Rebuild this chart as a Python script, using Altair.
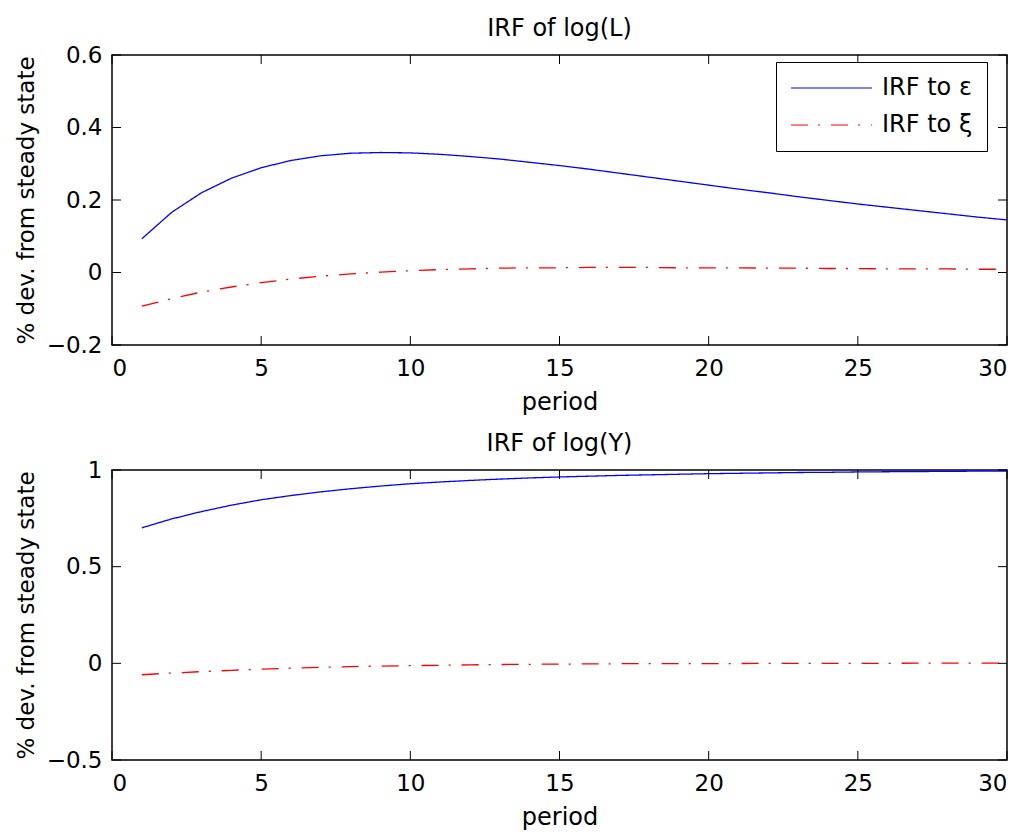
import altair as alt
import pandas as pd

periods = list(range(1, 31))
L_eps = [0.093, 0.166, 0.220, 0.260, 0.289, 0.309, 0.322, 0.329, 0.331, 0.330,
         0.326, 0.320, 0.313, 0.304, 0.295, 0.285, 0.274, 0.263, 0.252, 0.241,
         0.230, 0.220, 0.209, 0.199, 0.189, 0.180, 0.171, 0.162, 0.153, 0.145]
L_xi = [-0.093, -0.072, -0.054, -0.040, -0.028, -0.018, -0.010, -0.004, 0.001, 0.005,
        0.008, 0.010, 0.012, 0.013, 0.013, 0.014, 0.014, 0.014, 0.013, 0.013,
        0.013, 0.012, 0.012, 0.011, 0.011, 0.010, 0.010, 0.010, 0.009, 0.009]
Y_eps = [0.701, 0.747, 0.785, 0.818, 0.846, 0.868, 0.887, 0.903, 0.917, 0.929,
         0.938, 0.946, 0.953, 0.959, 0.964, 0.968, 0.972, 0.975, 0.978, 0.981,
         0.983, 0.985, 0.987, 0.988, 0.990, 0.991, 0.992, 0.993, 0.994, 0.995]
Y_xi = [-0.059, -0.050, -0.043, -0.036, -0.030, -0.025, -0.021, -0.017, -0.014, -0.012,
        -0.010, -0.008, -0.006, -0.005, -0.004, -0.003, -0.002, -0.002, -0.001, -0.001,
        -0.001, 0.000, 0.000, 0.000, 0.000, 0.000, 0.001, 0.001, 0.001, 0.001]
series_labels = ["IRF to ε", "IRF to ξ"]
x_ticks = [0, 5, 10, 15, 20, 25, 30]
L_yticks = [-0.2, 0, 0.2, 0.4, 0.6]
Y_yticks = [-0.5, 0, 0.5, 1]
titles = ["IRF of log(L)", "IRF of log(Y)"]

W, H = 895, 290
TICK = 9
FONT = "DejaVu Sans"


def panel(eps, xi, yticks, title, show_legend):
    df = pd.DataFrame({
        "period": periods * 2,
        "value": eps + xi,
        "series": [series_labels[0]] * len(eps) + [series_labels[1]] * len(xi),
    })
    xs = alt.Scale(domain=[x_ticks[0], x_ticks[-1]], nice=False, zero=False)
    ys = alt.Scale(domain=[yticks[0], yticks[-1]], nice=False, zero=False)
    xax = alt.Axis(values=x_ticks, title="period", format="d")
    yax = alt.Axis(values=yticks, format="~g", title="% dev. from steady state")
    if show_legend:
        leg = alt.Legend(title=None, orient="none", legendX=664, legendY=7,
                         strokeColor="black", fillColor="white", padding=14,
                         labelFontSize=24, labelFont=FONT, labelColor="black",
                         symbolType="stroke", symbolSize=6561, symbolStrokeWidth=1.2,
                         labelOffset=9, rowPadding=13, clipHeight=24)
    else:
        leg = None
    lines = alt.Chart(df).mark_line(strokeWidth=1.3, clip=True).encode(
        x=alt.X("period:Q", scale=xs, axis=xax),
        y=alt.Y("value:Q", scale=ys, axis=yax),
        color=alt.Color("series:N", scale=alt.Scale(domain=series_labels, range=["#0000ff", "#ff0000"]),
                        legend=leg),
        strokeDash=alt.StrokeDash("series:N",
                                  scale=alt.Scale(domain=series_labels, range=[[1, 0], [17, 10, 2, 11]]),
                                  legend=leg),
    )
    xt = pd.DataFrame({"period": x_ticks})
    yt = pd.DataFrame({"value": yticks})
    bx = alt.Chart(xt).mark_rule(color="black", strokeWidth=1).encode(
        x=alt.X("period:Q", scale=xs, axis=xax), y=alt.value(H), y2=alt.value(H - TICK))
    tx = alt.Chart(xt).mark_rule(color="black", strokeWidth=1).encode(
        x=alt.X("period:Q", scale=xs, axis=xax), y=alt.value(0), y2=alt.value(TICK))
    ly = alt.Chart(yt).mark_rule(color="black", strokeWidth=1).encode(
        y=alt.Y("value:Q", scale=ys, axis=yax), x=alt.value(0), x2=alt.value(TICK))
    ry = alt.Chart(yt).mark_rule(color="black", strokeWidth=1).encode(
        y=alt.Y("value:Q", scale=ys, axis=yax), x=alt.value(W), x2=alt.value(W - TICK))
    return alt.layer(lines, bx, tx, ly, ry).properties(
        width=W, height=H,
        title=alt.TitleParams(title, fontSize=24, fontWeight="normal", font=FONT,
                              color="black", offset=3, anchor="middle"),
    )


top = panel(L_eps, L_xi, L_yticks, titles[0], True)
bottom = panel(Y_eps, Y_xi, Y_yticks, titles[1], False)

chart = alt.vconcat(top, bottom, spacing=16).resolve_scale(
    color="independent", strokeDash="independent", x="independent", y="independent"
).resolve_legend(color="independent", strokeDash="independent").properties(
    padding={"left": 6, "top": 8, "right": 5, "bottom": 0},
    background="white",
).configure_view(
    stroke="black", strokeWidth=1.5
).configure_axis(
    grid=False, ticks=False, domain=False,
    labelFont=FONT, titleFont=FONT, labelFontSize=23, titleFontSize=23,
    titleFontWeight="normal", labelColor="black", titleColor="black",
).configure_axisX(
    labelPadding=12, titlePadding=10, titleFontSize=24
).configure_axisY(
    labelPadding=10, titlePadding=8
)

chart.save("out.html", embed_options={"renderer": "svg", "actions": False})
